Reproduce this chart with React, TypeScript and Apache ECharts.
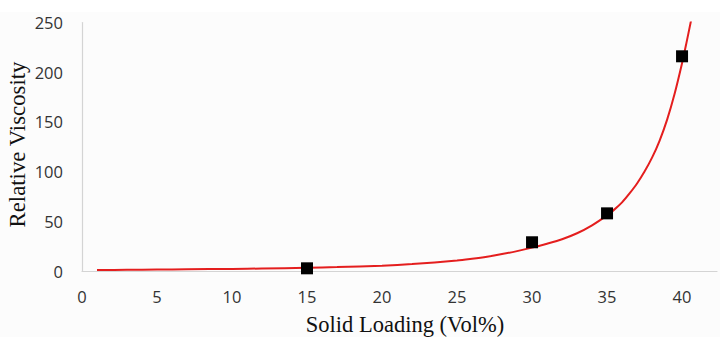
import React, { useEffect, useRef } from "react";
import * as echarts from "echarts";

// Measured points (Solid Loading Vol%, Relative Viscosity)
const pointX = [15, 30, 35, 40];
const pointY = [2.7, 28.9, 58, 216];

// Fitted curve
const curveX = [1, 3, 5, 7, 10, 12, 15, 17, 20, 22, 25, 26, 27, 28, 29, 30, 31, 32, 33, 34, 35, 35.5, 36, 36.5, 37, 37.5, 38, 38.5, 39, 39.5, 40, 40.3, 40.6];
const curveY = [1.0, 1.2, 1.4, 1.7, 2.1, 2.5, 3.3, 4.0, 5.4, 7.0, 10.5, 12.3, 14.4, 17, 20, 23.5, 27.5, 32, 38, 46, 56, 62, 69, 78, 88, 100, 114, 131, 152, 178, 209, 230, 252];

const xTicks = [0, 5, 10, 15, 20, 25, 30, 35, 40];

export default function App() {
  const ref = useRef<HTMLDivElement>(null);
  useEffect(() => {
    if (!ref.current) return;
    const chart = echarts.init(ref.current, undefined, { renderer: "svg" });
    const curve = curveX.map((x, i) => [x, curveY[i]]);
    const pts = pointX.map((x, i) => [x, pointY[i]]);
    chart.setOption({
      animation: false,
      backgroundColor: "#fcfcfc",
      grid: { left: 82, right: 3, top: 22.5, bottom: 66, containLabel: false },
      xAxis: {
        type: "value",
        min: 0,
        max: 42.33,
        interval: 5,
        axisLine: { show: true, lineStyle: { color: "#d4d4d4", width: 1.2 } },
        axisTick: { show: false },
        splitLine: { show: false },
        axisLabel: {
          margin: 17,
          fontSize: 16.5,
          fontFamily: "Open Sans",
          color: "#333333",
          formatter: (v: number) => (xTicks.indexOf(v) >= 0 ? String(v) : ""),
        },
      },
      yAxis: {
        type: "value",
        min: 0,
        max: 250,
        interval: 50,
        axisLine: { show: true, lineStyle: { color: "#d4d4d4", width: 1.2 } },
        axisTick: { show: false },
        splitLine: { show: false },
        axisLabel: {
          margin: 19,
          fontSize: 16.5,
          fontFamily: "Open Sans",
          color: "#333333",
        },
      },
      graphic: [
        { type: "rect", left: 0, top: 0, shape: { width: 720, height: 12 }, style: { fill: "#ffffff" }, z: -1 },
        {
          type: "text",
          x: 405,
          y: 324,
          style: {
            text: "Solid Loading (Vol%)",
            font: '22.5px "Liberation Serif"',
            fill: "#111111",
            align: "center",
            verticalAlign: "middle",
          },
        },
        {
          type: "text",
          x: 17.4,
          y: 144.5,
          rotation: Math.PI / 2,
          style: {
            text: "Relative Viscosity",
            font: '22.8px "Liberation Serif"',
            fill: "#111111",
            align: "center",
            verticalAlign: "middle",
          },
        },
      ],
      series: [
        {
          type: "line",
          data: curve,
          smooth: 0.3,
          showSymbol: false,
          symbol: "none",
          lineStyle: { color: "#e41e1e", width: 2 },
          z: 2,
        },
        {
          type: "scatter",
          data: pts,
          symbol: "rect",
          symbolSize: 12,
          itemStyle: { color: "#000000", opacity: 1 },
          z: 3,
        },
      ],
    });
    return () => chart.dispose();
  }, []);
  return <div ref={ref} style={{ position: "fixed", left: 0, top: 0, width: 720, height: 337 }} />;
}
